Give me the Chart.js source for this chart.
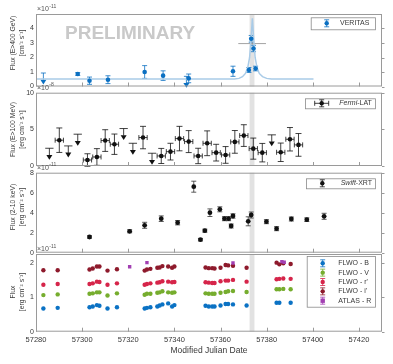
<!DOCTYPE html>
<html>
<head>
<meta charset="utf-8">
<script src="https://cdn.jsdelivr.net/npm/chart.js@4.4.1/dist/chart.umd.min.js"></script>
<style>
  html, body { margin: 0; padding: 0; background: #fff; }
  #wrap { position: relative; width: 393px; height: 364px; }
  #wrap canvas { position: absolute; left: 0; top: 0; }
</style>
</head>
<body>
<div id="wrap">
  <canvas id="veritasChart" width="393" height="364"></canvas>
  <canvas id="fermiChart" width="393" height="364"></canvas>
  <canvas id="swiftChart" width="393" height="364"></canvas>
  <canvas id="opticalChart" width="393" height="364"></canvas>
</div>
<script>
// shared x axis
const mjdTicks = [57280, 57300, 57320, 57340, 57360, 57380, 57400, 57420];
const flareBand = [57372.6, 57374.7];

// VERITAS, E>400 GeV (x1e-11 cm^-2 s^-1)
const veritasMjd = [57298.1, 57303.2, 57311.2, 57327.1, 57335.1, 57346.2, 57365.4, 57372.3, 57373.3, 57374.3, 57375.2];
const veritasFlux = [0.86, 0.40, 0.47, 1.00, 0.75, 0.56, 1.05, 1.14, 3.29, 2.62, 1.24];
const veritasErr = [0.10, 0.25, 0.27, 0.44, 0.33, 0.30, 0.35, 0.17, 0.23, 0.22, 0.16];
const veritasUlMjd = [57283.2, 57345.2];
const veritasUlFlux = [0.93, 0.70];
const veritasNightMjd = [57373.7];
const veritasNightFlux = [2.96];
const veritasNightErr = [0.08];
const veritasNightHalfWidth = 6;
const modelMjd = [57280, 57366, 57368, 57369.5, 57370.8, 57371.8, 57372.6, 57373.2, 57373.8, 57374.4, 57375.0, 57375.8, 57376.8, 57378.2, 57380, 57382, 57400.3];
const modelFlux = [0.51, 0.52, 0.56, 0.68, 0.90, 1.30, 2.00, 3.20, 4.70, 3.20, 2.00, 1.30, 0.90, 0.68, 0.56, 0.52, 0.51];

// Fermi-LAT, E>100 MeV (x1e-8)
const fermiMjd = [57290.1, 57302.3, 57306.4, 57310.0, 57314.0, 57326.4, 57334.3, 57338.3, 57342.2, 57346.2, 57350.3, 57354.2, 57358.1, 57362.2, 57366.2, 57370.1, 57374.2, 57378.1, 57386.1, 57390.1, 57393.8];
const fermiFlux = [3.52, 0.82, 1.23, 3.47, 2.97, 3.88, 1.37, 1.96, 3.74, 3.33, 1.37, 3.10, 1.82, 1.51, 3.29, 4.15, 2.37, 1.82, 1.87, 3.65, 2.88];
const fermiErr = [1.67, 0.85, 1.14, 1.48, 1.39, 1.53, 1.03, 1.14, 1.67, 1.50, 1.05, 1.69, 1.14, 1.14, 1.55, 1.48, 1.44, 1.26, 1.26, 1.60, 1.55];
const fermiUlMjd = [57285.8, 57294.0, 57298.1, 57318.0, 57322.0, 57330.3, 57382.2];
const fermiUlFlux = [2.42, 2.74, 4.34, 5.11, 3.10, 1.74, 4.25];
const fermiHalfBin = 1.8;

// Swift-XRT, 2-10 keV (x1e-11)
const swiftMjd = [57303.2, 57320.6, 57327.1, 57334.3, 57341.4, 57348.4, 57351.3, 57353.2, 57355.4, 57359.7, 57361.7, 57363.5, 57364.6, 57365.4, 57372.0, 57373.3, 57379.9, 57384.3, 57390.7, 57397.4, 57404.9];
const swiftFlux = [1.57, 2.14, 2.74, 3.40, 3.00, 6.60, 1.30, 2.20, 4.00, 4.34, 3.40, 3.40, 2.67, 3.67, 3.14, 3.77, 3.10, 2.40, 3.37, 3.30, 3.64];
const swiftErr = [0.12, 0.15, 0.30, 0.28, 0.22, 0.55, 0.12, 0.15, 0.38, 0.25, 0.20, 0.20, 0.20, 0.22, 0.45, 0.30, 0.20, 0.20, 0.20, 0.18, 0.30];

// optical (x1e-11)
const flwoMjd = [57283.2, 57289.4, 57303.2, 57304.6, 57306.4, 57307.5, 57311.0, 57315.1, 57327.1, 57328.1, 57329.6, 57332.6, 57333.6, 57334.8, 57337.3, 57339.0, 57340.0, 57353.5, 57354.9, 57356.4, 57357.4, 57360.0, 57362.2, 57363.3, 57365.4, 57371.3, 57384.3, 57385.5, 57387.2, 57390.4];
const flwoB = [0.67, 0.69, 0.71, 0.73, 0.77, 0.75, 0.67, 0.71, 0.67, 0.69, 0.71, 0.73, 0.76, 0.79, 0.82, 0.73, 0.77, 0.75, 0.73, 0.73, 0.73, 0.76, 0.80, 0.80, 0.79, 0.76, 0.84, 0.84, null, 0.84];
const flwoV = [1.06, 1.08, 1.10, 1.11, 1.14, 1.14, 1.05, 1.11, 1.07, 1.10, 1.10, 1.13, 1.14, 1.17, 1.14, 1.13, 1.14, 1.11, 1.10, 1.10, 1.10, 1.13, 1.15, 1.17, 1.18, 1.15, 1.23, 1.23, 1.24, 1.23];
const flwoR = [1.36, 1.38, 1.38, 1.40, 1.45, 1.44, 1.36, 1.40, 1.36, 1.38, 1.40, 1.42, 1.43, 1.46, 1.45, 1.43, 1.44, 1.43, 1.42, 1.41, 1.41, 1.46, 1.48, 1.48, 1.50, 1.45, 1.52, 1.53, 1.54, 1.53];
const flwoI = [1.78, 1.78, 1.80, 1.83, 1.89, 1.89, 1.77, 1.81, 1.77, 1.80, 1.82, 1.85, 1.86, 1.90, 1.89, 1.85, 1.89, 1.86, 1.84, 1.84, 1.83, 1.85, 1.93, 1.92, 1.91, 1.85, 2.00, 1.95, 1.98, 1.96];
const atlasMjd = [57320.6, 57328.1, 57365.4, 57386.6, 57387.6];
const atlasR = [1.88, 2.00, 1.99, 2.03, 2.01];

const FONT = '"Liberation Sans", Arial, Helvetica, sans-serif';
const TEXT = '#383838';
const AXIS = '#9a9a9a';
const BLUE = '#0b70c2';
const PLOT_LEFT = 36, PLOT_RIGHT = 382;

const pts = (xs, ys) => xs.map((x, i) => ({ x: x, y: ys[i] }));

function vbar(ctx, x, y0, y1, cap) {
  ctx.beginPath();
  ctx.moveTo(x, y0); ctx.lineTo(x, y1);
  if (cap) {
    ctx.moveTo(x - cap, y0); ctx.lineTo(x + cap, y0);
    ctx.moveTo(x - cap, y1); ctx.lineTo(x + cap, y1);
  }
  ctx.stroke();
}
function hbar(ctx, y, x0, x1, cap) {
  ctx.beginPath();
  ctx.moveTo(x0, y); ctx.lineTo(x1, y);
  if (cap) {
    ctx.moveTo(x0, y - cap); ctx.lineTo(x0, y + cap);
    ctx.moveTo(x1, y - cap); ctx.lineTo(x1, y + cap);
  }
  ctx.stroke();
}
function triDown(ctx, x, y) {
  ctx.beginPath();
  ctx.moveTo(x - 3, y - 2.3); ctx.lineTo(x + 3, y - 2.3); ctx.lineTo(x, y + 2.5);
  ctx.closePath(); ctx.fill();
}
function dot(ctx, x, y, r, style) {
  ctx.beginPath();
  if (style === 'rect') ctx.rect(x - r, y - r, 2 * r, 2 * r);
  else ctx.arc(x, y, r, 0, Math.PI * 2);
  ctx.fill();
}

// band, error bars, frame, tick labels, legend for one panel
function makePanel(cfg) {
  return {
    id: 'panel',
    beforeDatasetsDraw(chart) {
      const { ctx, chartArea: a, scales: { x: xs, y: ys } } = chart;
      ctx.save();
      ctx.fillStyle = '#e2e2e2';
      const b0 = xs.getPixelForValue(flareBand[0]), b1 = xs.getPixelForValue(flareBand[1]);
      ctx.fillRect(b0, a.top, b1 - b0, a.bottom - a.top);
      if (cfg.watermark) {
        ctx.fillStyle = '#c9c9c9';
        ctx.font = 'bold 19px ' + FONT;
        ctx.textBaseline = 'middle';
        ctx.fillText('PRELIMINARY', 65, 34);
      }
      ctx.lineWidth = 0.8;
      chart.data.datasets.forEach(ds => {
        const col = ds.barColor || ds.pointBackgroundColor;
        ctx.strokeStyle = col; ctx.fillStyle = col;
        ds.data.forEach((d, i) => {
          if (d.y == null) return;
          const px = xs.getPixelForValue(d.x), py = ys.getPixelForValue(d.y);
          if (ds.yErr) vbar(ctx, px, ys.getPixelForValue(d.y - ds.yErr[i]), ys.getPixelForValue(d.y + ds.yErr[i]), ds.cap);
          if (ds.xErr) hbar(ctx, py, xs.getPixelForValue(d.x - ds.xErr), xs.getPixelForValue(d.x + ds.xErr), ds.xErrCap);
          if (ds.upper) {
            if (!ds.xErr) hbar(ctx, py, px - ds.cap, px + ds.cap, 0);
            vbar(ctx, px, py, py + 7, 0);
            triDown(ctx, px, py + 9);
          }
        });
      });
      ctx.restore();
    },
    afterDraw(chart) {
      const { ctx, chartArea: a, scales: { x: xs, y: ys } } = chart;
      ctx.save();
      ctx.strokeStyle = AXIS; ctx.lineWidth = 1;
      ctx.strokeRect(a.left + 0.5, a.top + 0.5, a.right - a.left - 1, a.bottom - a.top - 1);
      ctx.beginPath();
      mjdTicks.forEach(v => {
        const px = Math.round(xs.getPixelForValue(v)) + 0.5;
        ctx.moveTo(px, a.bottom); ctx.lineTo(px, a.bottom - 4);
      });
      cfg.yTicks.forEach(v => {
        const py = Math.round(ys.getPixelForValue(v)) + 0.5;
        ctx.moveTo(a.right, py); ctx.lineTo(a.right + 2.5, py);
      });
      ctx.stroke();

      // y tick labels
      ctx.fillStyle = TEXT;
      ctx.font = '7px ' + FONT;
      ctx.textAlign = 'right'; ctx.textBaseline = 'middle';
      cfg.yTicks.forEach(v => ctx.fillText(String(v), a.left - 2, ys.getPixelForValue(v)));

      // x tick labels and title on the bottom panel
      if (cfg.showX) {
        ctx.textAlign = 'center';
        ctx.font = '7.5px ' + FONT;
        mjdTicks.forEach(v => ctx.fillText(String(v), xs.getPixelForValue(v), a.bottom + 8));
        ctx.font = '8.5px ' + FONT;
        ctx.fillText('Modified Julian Date', (a.left + a.right) / 2, a.bottom + 19);
      }

      // exponent label
      ctx.fillStyle = '#555';
      ctx.font = '7px ' + FONT;
      ctx.textAlign = 'left'; ctx.textBaseline = 'alphabetic';
      ctx.fillText('\u00d710', a.left + 1, a.top - 3);
      const w = ctx.measureText('\u00d710').width;
      ctx.font = '5px ' + FONT;
      ctx.fillText(cfg.exp, a.left + 1.5 + w, a.top - 6.5);

      // y title
      ctx.save();
      ctx.translate(0, cfg.titleY);
      ctx.rotate(-Math.PI / 2);
      ctx.fillStyle = TEXT;
      ctx.font = '6.8px ' + FONT;
      ctx.textAlign = 'center'; ctx.textBaseline = 'middle';
      cfg.title.forEach((t, i) => ctx.fillText(t, 0, 13.5 + i * 9));
      ctx.restore();

      // legend
      const L = cfg.legend;
      ctx.fillStyle = '#fff';
      ctx.fillRect(L.x, L.y, L.w, L.h);
      ctx.strokeStyle = '#8a8a8a'; ctx.lineWidth = 0.8;
      ctx.strokeRect(L.x + 0.5, L.y + 0.5, L.w, L.h);
      L.rows.forEach((r, i) => {
        const cy = L.y + L.first + i * L.pitch;
        ctx.strokeStyle = r.color; ctx.fillStyle = r.color; ctx.lineWidth = 0.8;
        vbar(ctx, L.mx, cy - 3.5, cy + 3.5, 2.5);
        if (r.xbar) hbar(ctx, cy, L.mx - 7, L.mx + 7, 2.5);
        dot(ctx, L.mx, cy, 2.2, r.style);
        ctx.fillStyle = TEXT;
        ctx.textAlign = 'left'; ctx.textBaseline = 'middle';
        let tx = L.tx;
        if (r.italic) {
          ctx.font = 'italic 7px ' + FONT;
          ctx.fillText(r.italic, tx, cy);
          tx += ctx.measureText(r.italic).width;
        }
        ctx.font = '7px ' + FONT;
        ctx.fillText(r.label, tx, cy);
      });
      ctx.restore();
    }
  };
}

function makeChart(id, datasets, top, bottom, yMin, yMax, cfg) {
  return new Chart(document.getElementById(id), {
    type: 'scatter',
    data: { datasets: datasets },
    options: {
      responsive: false,
      animation: false,
      // scales are hidden, so the padding alone sets the plot box
      layout: { padding: { left: PLOT_LEFT, right: 393 - PLOT_RIGHT, top: top, bottom: 364 - bottom } },
      scales: {
        x: { type: 'linear', min: 57280, max: 57430, display: false },
        y: { type: 'linear', min: yMin, max: yMax, display: false }
      },
      plugins: { legend: { display: false }, tooltip: { enabled: false } }
    },
    plugins: [makePanel(cfg)]
  });
}

const point = (color, r) => ({ pointRadius: r, pointBackgroundColor: color, pointBorderWidth: 0, pointStyle: 'circle' });

// VERITAS panel
makeChart('veritasChart', [
  { data: pts(veritasMjd, veritasFlux), yErr: veritasErr, cap: 2.5, ...point(BLUE, 2.3) },
  { data: pts(veritasUlMjd, veritasUlFlux), upper: true, cap: 2.5, ...point(BLUE, 0) },
  { data: pts(veritasNightMjd, veritasNightFlux), yErr: veritasNightErr, xErr: veritasNightHalfWidth, cap: 0, barColor: '#8c8c8c', ...point('#8c8c8c', 0) },
  { data: pts(modelMjd, modelFlux), showLine: true, borderColor: '#a9cbe7', borderWidth: 1.5, pointRadius: 0, tension: 0 }
], 14, 86.5, 0, 5, {
  yTicks: [0, 1, 2, 3, 4], exp: '-11', watermark: true, titleY: 43,
  title: ['Flux (E>400 GeV)', '[cm\u207b\u00b2 s\u207b\u00b9]'],
  legend: { x: 310.7, y: 17.3, w: 64.3, h: 12, first: 6, pitch: 10, mx: 326.7, tx: 340,
    rows: [{ label: 'VERITAS', color: BLUE }] }
});

// Fermi-LAT panel
makeChart('fermiChart', [
  { data: pts(fermiMjd, fermiFlux), yErr: fermiErr, xErr: fermiHalfBin, cap: 3, xErrCap: 2.5, ...point('#111', 2.3) },
  { data: pts(fermiUlMjd, fermiUlFlux), upper: true, xErr: fermiHalfBin, cap: 3, xErrCap: 0, ...point('#111', 0) }
], 92.7, 166, 0, 10, {
  yTicks: [0, 5, 10], exp: '-8', titleY: 129.5,
  title: ['Flux (E>100 MeV)', '[erg cm\u207b\u00b2 s\u207b\u00b9]'],
  legend: { x: 305, y: 98.3, w: 70, h: 10, first: 5, pitch: 10, mx: 321.7, tx: 339.3,
    rows: [{ italic: 'Fermi', label: '-LAT', color: '#111', xbar: true }] }
});

// Swift-XRT panel
makeChart('swiftChart', [
  { data: pts(swiftMjd, swiftFlux), yErr: swiftErr, cap: 2.5, barColor: '#333', ...point('#111', 2.4) }
], 172.7, 252.7, 0, 8, {
  yTicks: [0, 2, 4, 6, 8], exp: '-11', titleY: 207,
  title: ['Flux (2-10 keV)', '[erg cm\u207b\u00b2 s\u207b\u00b9]'],
  legend: { x: 306, y: 178.3, w: 69, h: 10, first: 5, pitch: 10, mx: 322.3, tx: 340.7,
    rows: [{ italic: 'Swift', label: '-XRT', color: '#111' }] }
});

// optical panel
const C_B = '#0b72c4', C_V = '#76ad2e', C_R = '#d6254a', C_I = '#8e1a2c', C_A = '#a23fb2';
makeChart('opticalChart', [
  { data: pts(atlasMjd, atlasR), ...point(C_A, 2.4), pointStyle: 'rect' },
  { data: pts(flwoMjd, flwoI), ...point(C_I, 2.2) },
  { data: pts(flwoMjd, flwoR), ...point(C_R, 2.2) },
  { data: pts(flwoMjd, flwoV), ...point(C_V, 2.2) },
  { data: pts(flwoMjd, flwoB), ...point(C_B, 2.2) }
], 254, 331.7, 0, 2.25, {
  yTicks: [0, 1, 2], exp: '-11', titleY: 292, showX: true,
  title: ['Flux', '[erg cm\u207b\u00b2 s\u207b\u00b9]'],
  legend: { x: 306.7, y: 256, w: 68.3, h: 50.7, first: 7.3, pitch: 9.35, mx: 322.7, tx: 338.3,
    rows: [
      { label: 'FLWO - B', color: C_B },
      { label: 'FLWO - V', color: C_V },
      { label: "FLWO - r'", color: C_R },
      { label: "FLWO - i'", color: C_I },
      { label: 'ATLAS - R', color: C_A, style: 'rect' }
    ] }
});
</script>
</body>
</html>
